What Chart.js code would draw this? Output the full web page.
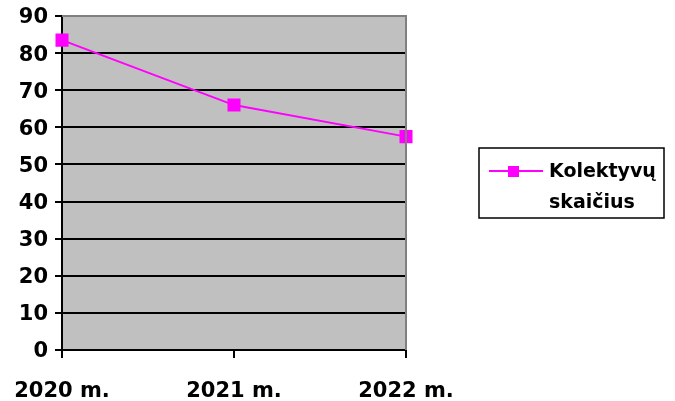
<!DOCTYPE html>
<html>
<head>
<meta charset="utf-8">
<script src="https://cdn.jsdelivr.net/npm/chart.js@4"></script>
<style>
  html, body { margin: 0; padding: 0; background: #fff; }
  #wrap { width: 675px; height: 401px; }
</style>
</head>
<body>
<div id="wrap"><canvas id="chart" width="675" height="401"></canvas></div>
<script>
const years = ["2020 m.", "2021 m.", "2022 m."];
const kolektyvai = [83.5, 66, 57.5];
const seriesLabel = ["Kolektyvų", "skaičius"];

const FONT = "'DejaVu Sans', sans-serif";

// grey plot background + grey frame on top/right
const plotBg = {
  id: "plotBg",
  beforeDraw(chart) {
    const { ctx, chartArea: a } = chart;
    ctx.save();
    ctx.fillStyle = "#c0c0c0";
    ctx.fillRect(a.left, a.top, a.right - a.left, a.bottom - a.top);
    ctx.restore();
  },
  afterDatasetsDraw(chart) {
    const { ctx, chartArea: a } = chart;
    ctx.save();
    ctx.strokeStyle = "#808080";
    ctx.lineWidth = 2;
    ctx.beginPath();
    ctx.moveTo(a.left, a.top);
    ctx.lineTo(a.right, a.top);
    ctx.lineTo(a.right, a.bottom);
    ctx.stroke();
    ctx.restore();
  }
};

// boxed legend with two-line label
const boxLegend = {
  id: "boxLegend",
  afterDraw(chart) {
    const { ctx } = chart;
    const ds = chart.data.datasets[0];
    ctx.save();
    ctx.strokeStyle = "#000";
    ctx.lineWidth = 1.5;
    ctx.strokeRect(479, 148, 185, 70);
    ctx.strokeStyle = ds.borderColor;
    ctx.lineWidth = 2;
    ctx.beginPath();
    ctx.moveTo(489, 171);
    ctx.lineTo(543, 171);
    ctx.stroke();
    ctx.fillStyle = ds.backgroundColor;
    ctx.fillRect(508, 166, 11, 11);
    ctx.fillStyle = "#000";
    ctx.font = "bold 19px " + FONT;
    ctx.textBaseline = "alphabetic";
    ctx.fillText(seriesLabel[0], 549, 177);
    ctx.fillText(seriesLabel[1], 549, 208);
    ctx.restore();
  }
};

new Chart(document.getElementById("chart"), {
  type: "line",
  data: {
    labels: years,
    datasets: [{
      label: seriesLabel.join(" "),
      data: kolektyvai,
      borderColor: "#ff00ff",
      backgroundColor: "#ff00ff",
      borderWidth: 2,
      pointStyle: "rect",
      pointRadius: 7.8,
      pointHoverRadius: 7.8,
      tension: 0
    }]
  },
  options: {
    responsive: false,
    animation: false,
    layout: { autoPadding: false, padding: { top: 16, right: 269, left: 0, bottom: 0 } },
    plugins: { legend: { display: false }, tooltip: { enabled: false } },
    scales: {
      x: {
        offset: false,
        afterFit(s) {
          s.height = 51;
          s.paddingLeft = 0;
          s.paddingRight = 0;
        },
        grid: {
          drawOnChartArea: false,
          drawTicks: true,
          tickLength: 8,
          color: "#000",
          lineWidth: 2
        },
        border: { color: "#000", width: 2 },
        ticks: {
          color: "#000",
          padding: 21,
          maxRotation: 0,
          font: { family: FONT, size: 21, weight: "bold" }
        }
      },
      y: {
        min: 0,
        max: 90,
        afterFit(s) {
          s.width = 62;
          s.paddingTop = 0;
          s.paddingBottom = 0;
        },
        grid: {
          color: (c) => (c.tick && c.tick.value === 90 ? "#808080" : "#000"),
          lineWidth: 2,
          drawTicks: true,
          tickLength: 7,
          tickColor: "#000"
        },
        border: { color: "#000", width: 2 },
        ticks: {
          stepSize: 10,
          color: "#000",
          padding: 7,
          labelOffset: 2,
          font: { family: FONT, size: 21, weight: "bold" }
        }
      }
    }
  },
  plugins: [plotBg, boxLegend]
});
</script>
</body>
</html>
